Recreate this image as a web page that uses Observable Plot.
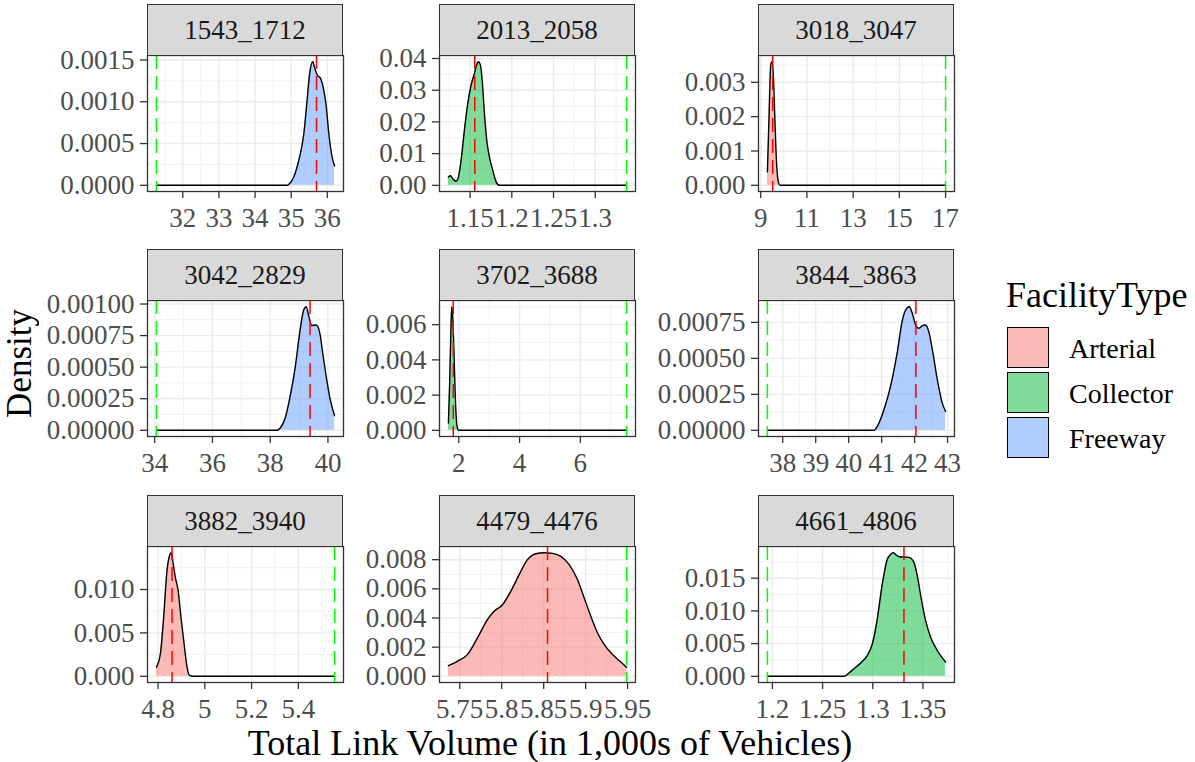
<!DOCTYPE html>
<html><head><meta charset="utf-8">
<script src="https://cdn.jsdelivr.net/npm/d3@7"></script>
<script src="https://cdn.jsdelivr.net/npm/@observablehq/plot@0.6"></script>
<style>
body{margin:0;background:#fff;}
#chart{position:relative;width:1195px;height:762px;overflow:hidden;font-family:"Liberation Serif","DejaVu Serif",serif;background:#fff;}
#chart svg{position:absolute;max-width:none;}
.strip{position:absolute;background:#D9D9D9;border:1.3px solid #333333;box-sizing:border-box;display:flex;align-items:center;justify-content:center;font-size:27px;color:#1A1A1A;line-height:1.2;}
.txt{position:absolute;white-space:nowrap;line-height:1.25;color:#000;}
.vtxt{position:absolute;white-space:nowrap;line-height:normal;color:#000;writing-mode:vertical-rl;transform:rotate(180deg);}
.key{position:absolute;width:42px;height:41px;box-sizing:border-box;border:1.3px solid #000;}
</style></head>
<body><div id="chart"></div>
<script>
// ---------- data ----------
const panelIds = ["1543_1712","2013_2058","3018_3047","3042_2829","3702_3688","3844_3863","3882_3940","4479_4476","4661_4806"];
const panelType = ["Freeway","Collector","Arterial","Freeway","Collector","Freeway","Arterial","Arterial","Collector"];
const facilityTypes = ["Arterial","Collector","Freeway"];
const facilityColors = ["#F8766D","#00BA38","#619CFF"];
const redLine = [35.70, 1.1556, 9.52, 39.38, 1.82, 42.04, 4.86, 5.8546, 1.3311];
const greenLine = [31.27, 1.3376, 17.0, 34.06, 7.52, 37.535, 5.555, 5.9488, 1.195];

const densX1 = [31.27, 34.90, 34.93, 35.07, 35.21, 35.35, 35.44, 35.51, 35.60, 35.64, 35.72, 35.81, 35.90, 35.96, 36.04, 36.13, 36.20];
const densY1 = [0, 0, 0.00001, 0.0001, 0.0003, 0.00062, 0.00102, 0.00134, 0.00148, 0.00142, 0.00132, 0.00128, 0.00114, 0.00098, 0.00062, 0.00034, 0.00023];
const densX2 = [1.124, 1.1264, 1.1292, 1.1332, 1.136, 1.1392, 1.1432, 1.1472, 1.1512, 1.1552, 1.1584, 1.16, 1.1624, 1.1648, 1.1672, 1.17, 1.1732, 1.1772, 1.1812, 1.1852, 1.3376];
const densY2 = [0.0026, 0.003, 0.0021, 0.0013, 0.0026, 0.0079, 0.0174, 0.0258, 0.0316, 0.0353, 0.0384, 0.039, 0.0379, 0.0321, 0.0226, 0.0141, 0.0089, 0.0047, 0.0011, 0, 0];
const densX3 = [9.29, 9.36, 9.43, 9.48, 9.55, 9.61, 9.68, 9.75, 9.84, 17.0];
const densY3 = [0.00039, 0.002, 0.00346, 0.0036, 0.00316, 0.002, 0.00073, 0.00015, 0, 0];
const densX4 = [34.06, 38.23, 38.35, 38.52, 38.69, 38.87, 39.02, 39.16, 39.25, 39.33, 39.44, 39.56, 39.64, 39.73, 39.82, 39.94, 40.08, 40.23];
const densY4 = [0, 0, 0.000018, 0.000097, 0.000268, 0.000505, 0.000768, 0.000953, 0.000979, 0.00091, 0.00083, 0.000834, 0.000826, 0.000755, 0.00061, 0.000426, 0.000242, 0.000116];
const densX5 = [1.66, 1.704, 1.748, 1.77, 1.803, 1.847, 1.89, 1.945, 2.0, 7.52];
const densY5 = [0.000415, 0.00287, 0.00608, 0.00702, 0.00645, 0.00419, 0.00174, 0.00023, 0, 0];
const densX6 = [37.535, 40.77, 40.87, 41.07, 41.27, 41.47, 41.63, 41.73, 41.84, 41.93, 42.03, 42.13, 42.23, 42.33, 42.43, 42.54, 42.69, 42.84, 42.94];
const densY6 = [0, 0, 0.000028, 0.000143, 0.000305, 0.000536, 0.000766, 0.000836, 0.000859, 0.000813, 0.000732, 0.000709, 0.000725, 0.000732, 0.000686, 0.000559, 0.000351, 0.000189, 0.000132];
const densX7 = [4.793, 4.81, 4.824, 4.838, 4.85, 4.856, 4.864, 4.874, 4.886, 4.898, 4.913, 4.924, 4.935, 4.95, 5.555];
const densY7 = [0.00107, 0.0026, 0.0068, 0.0121, 0.01397, 0.01424, 0.0131, 0.0114, 0.00985, 0.0068, 0.00336, 0.00107, 0.0001, 0, 0];
const densX8 = [5.7365, 5.7472, 5.7591, 5.7711, 5.783, 5.791, 5.8009, 5.8108, 5.8208, 5.8307, 5.8407, 5.8506, 5.8605, 5.8705, 5.8804, 5.8904, 5.8983, 5.9063, 5.9142, 5.9222, 5.9321, 5.942, 5.9488];
const densY8 = [0.00073, 0.00103, 0.00149, 0.00263, 0.00389, 0.00446, 0.00491, 0.00583, 0.00697, 0.008, 0.00841, 0.00848, 0.00843, 0.00823, 0.00766, 0.00663, 0.00537, 0.00411, 0.00297, 0.00217, 0.00149, 0.00098, 0.00062];
const densX9 = [1.195, 1.2714, 1.2763, 1.2813, 1.288, 1.2946, 1.2996, 1.3045, 1.3095, 1.3145, 1.3178, 1.3205, 1.3238, 1.3271, 1.3311, 1.3361, 1.3411, 1.3444, 1.3484, 1.3527, 1.3577, 1.3643, 1.3726];
const densY9 = [0, 0, 0.00051, 0.00117, 0.00203, 0.00319, 0.00496, 0.00876, 0.01408, 0.01788, 0.01864, 0.0189, 0.01849, 0.01824, 0.01824, 0.01819, 0.01738, 0.01535, 0.0118, 0.00851, 0.00598, 0.00395, 0.00218];

const xTicks = [
  [32, 33, 34, 35, 36],
  [1.15, 1.2, 1.25, 1.3],
  [9, 11, 13, 15, 17],
  [34, 36, 38, 40],
  [2, 4, 6],
  [38, 39, 40, 41, 42, 43],
  [4.8, 5, 5.2, 5.4],
  [5.75, 5.8, 5.85, 5.9, 5.95],
  [1.2, 1.25, 1.3, 1.35]
];
const yTicks = [
  [0, 0.0005, 0.001, 0.0015],
  [0, 0.01, 0.02, 0.03, 0.04],
  [0, 0.001, 0.002, 0.003],
  [0, 0.00025, 0.0005, 0.00075, 0.001],
  [0, 0.002, 0.004, 0.006],
  [0, 0.00025, 0.0005, 0.00075],
  [0, 0.005, 0.01],
  [0, 0.002, 0.004, 0.006, 0.008],
  [0, 0.005, 0.01, 0.015]
];
const yDigits = [4, 2, 3, 5, 3, 5, 3, 3, 3];
const xTitle = "Total Link Volume (in 1,000s of Vehicles)";
const yTitle = "Density";
const legendTitle = "FacilityType";

const densX = [densX1, densX2, densX3, densX4, densX5, densX6, densX7, densX8, densX9];
const densY = [densY1, densY2, densY3, densY4, densY5, densY6, densY7, densY8, densY9];

// ---------- layout ----------
const FONT = "'Liberation Serif','DejaVu Serif',serif";
const colLeft = [147, 439, 758];
const stripTop = [4, 249, 495];
const stripH = 51, panelW = 196, panelH = 136;
const mL = 115, mR = 14, mT = 4, mB = 52;
const chart = document.getElementById("chart");

function expand(lo, hi) { const d = (hi - lo) * 0.05; return [lo - d, hi + d]; }
function minorOf(ticks, dom) {
  const step = ticks[1] - ticks[0];
  const out = [];
  for (let i = -1; i < ticks.length; i++) {
    const m = (i < 0 ? ticks[0] - step / 2 : ticks[i] + step / 2);
    if (m >= dom[0] && m <= dom[1]) out.push(m);
  }
  return out;
}

panelIds.forEach((id, i) => {
  const r = Math.floor(i / 3), c = i % 3;
  const data = densX[i].map((x, k) => ({x, y: densY[i][k]}));
  const xs = densX[i].concat([redLine[i], greenLine[i]]);
  const xDom = expand(d3.min(xs), d3.max(xs));
  const yDom = expand(0, d3.max(densY[i]));
  const col = facilityColors[facilityTypes.indexOf(panelType[i])];
  const xt = xTicks[i], yt = yTicks[i];
  const fmtY = d3.format("." + yDigits[i] + "f");
  const plot = Plot.plot({
    width: mL + panelW + mR,
    height: mT + panelH + mB,
    marginLeft: mL, marginRight: mR, marginTop: mT, marginBottom: mB,
    style: {fontFamily: FONT, fontSize: "27px", background: "transparent", overflow: "visible"},
    x: {domain: xDom, label: null},
    y: {domain: yDom, label: null},
    marks: [
      Plot.gridX(minorOf(xt, xDom), {stroke: "#EBEBEB", strokeOpacity: 1, strokeWidth: 0.7}),
      Plot.gridY(minorOf(yt, yDom), {stroke: "#EBEBEB", strokeOpacity: 1, strokeWidth: 0.7}),
      Plot.gridX(xt, {stroke: "#EBEBEB", strokeOpacity: 1, strokeWidth: 1.4}),
      Plot.gridY(yt, {stroke: "#EBEBEB", strokeOpacity: 1, strokeWidth: 1.4}),
      Plot.areaY(data, {x: "x", y: "y", fill: col, fillOpacity: 0.5, curve: "monotone-x"}),
      Plot.lineY(data, {x: "x", y: "y", stroke: "#000", strokeWidth: 1.4, curve: "monotone-x"}),
      Plot.ruleX([redLine[i]], {stroke: "#FF0000", strokeWidth: 1.5, strokeDasharray: "14,7"}),
      Plot.ruleX([greenLine[i]], {stroke: "#00FF00", strokeWidth: 1.5, strokeDasharray: "14,7"}),
      Plot.frame({stroke: "#333333", strokeWidth: 1.3}),
      Plot.axisX(xt, {anchor: "bottom", tickSize: 7, tickPadding: 9, stroke: "#333333", strokeWidth: 1.3, fill: "#4D4D4D", fontSize: 27, fontFamily: FONT, tickFormat: d => String(d), label: null}),
      Plot.axisY(yt, {anchor: "left", tickSize: 7, tickPadding: 6, stroke: "#333333", strokeWidth: 1.3, fill: "#4D4D4D", fontSize: 27, fontFamily: FONT, tickFormat: fmtY, label: null})
    ]
  });
  plot.querySelectorAll("text").forEach(t => t.setAttribute("font-family", FONT));
  const pTop = stripTop[r] + stripH;
  plot.style.left = (colLeft[c] - mL) + "px";
  plot.style.top = (pTop - mT) + "px";
  chart.appendChild(plot);

  const s = document.createElement("div");
  s.className = "strip";
  s.style.left = colLeft[c] + "px";
  s.style.top = stripTop[r] + "px";
  s.style.width = panelW + "px";
  s.style.height = (stripH + 1) + "px";
  s.textContent = id;
  chart.appendChild(s);
});

// axis titles
const xtl = document.createElement("div");
xtl.className = "txt"; xtl.textContent = xTitle;
xtl.style.fontSize = "36px";
xtl.style.left = "550px"; xtl.style.top = "743px"; xtl.style.transform = "translate(-50%,-50%)";
chart.appendChild(xtl);

const ytl = document.createElement("div");
ytl.className = "vtxt"; ytl.textContent = yTitle;
ytl.style.fontSize = "35px";
ytl.style.left = "0px"; ytl.style.top = "309px";
chart.appendChild(ytl);

// legend
const lt = document.createElement("div");
lt.className = "txt"; lt.textContent = legendTitle;
lt.style.fontSize = "36px"; lt.style.left = "1006px"; lt.style.top = "295px"; lt.style.transform = "translate(0,-50%)";
chart.appendChild(lt);
facilityTypes.forEach((t, k) => {
  const top = 327 + k * 45;
  const key = document.createElement("div");
  key.className = "key";
  const cc = d3.color(facilityColors[k]); cc.opacity = 0.5;
  key.style.background = cc.formatRgb();
  key.style.left = "1007px"; key.style.top = top + "px";
  chart.appendChild(key);
  const lab = document.createElement("div");
  lab.className = "txt"; lab.textContent = t;
  lab.style.fontSize = "28px"; lab.style.left = "1069px"; lab.style.top = (top + 20.5) + "px"; lab.style.transform = "translate(0,-50%)";
  chart.appendChild(lab);
});
</script></body></html>
